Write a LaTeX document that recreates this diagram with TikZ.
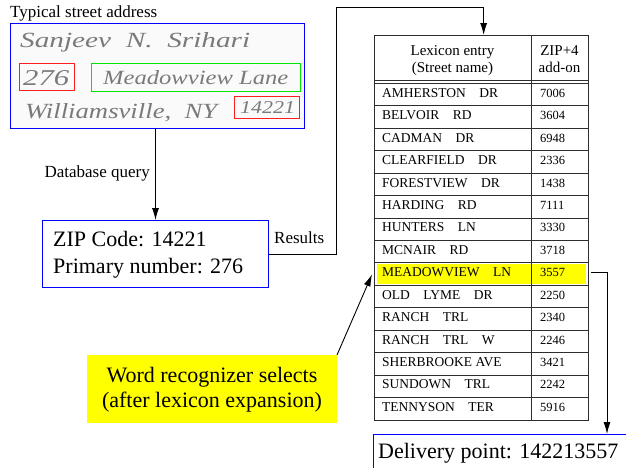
\documentclass[tikz,border=0pt]{standalone}
\usepackage{fontspec}
\setmainfont{Liberation Serif}
\usepackage{graphicx}
\usetikzlibrary{arrows.meta}
\definecolor{gridc}{RGB}{45,45,45}
\definecolor{hlyellow}{RGB}{255,255,0}
\definecolor{bxblue}{RGB}{0,0,255}
\definecolor{bxred}{RGB}{255,30,30}
\definecolor{bxgreen}{RGB}{0,230,0}
\tikzset{
  txtm/.style={inner sep=0pt, font=\fontsize{17}{20}\selectfont},
  bigt/.style={inner sep=0pt, font=\fontsize{22}{26}\selectfont},
  cellt/.style={inner sep=0pt, font=\fontsize{13.5}{16}\selectfont},
  numt/.style={inner sep=0pt, font=\fontsize{12.5}{15}\selectfont},
  headt/.style={inner sep=0pt, font=\fontsize{15}{17}\selectfont},
  hand/.style={inner sep=0pt, text=black!52, font=\itshape},
  frame/.style={inner sep=0pt, anchor=north west, line width=1pt},
  arr/.style={draw=black, line width=0.9pt, -{Latex[length=12pt,width=7pt]}},
  tline/.style={draw=gridc, line width=1pt},
}
\begin{document}
\begin{tikzpicture}[x=1pt,y=-1pt]
\useasboundingbox (0,0) rectangle (626,467);
\clip (0,0) rectangle (626,467);

% title
\node[txtm, anchor=base west] (title) at (10,17.5) {Typical street address};

% address image
\node[frame, draw=bxblue, fill=black!2, minimum width=294pt, minimum height=105pt] (addr) at (10,23) {};
\node[hand, anchor=base west] (hw1) at (20,47) {\resizebox{230pt}{15pt}{Sanjeev\ \ N.\ \ Srihari}};
\node[hand, anchor=base west] (hw2) at (23,85) {\resizebox{46pt}{15pt}{276}};
\node[hand, anchor=base west] (hw3) at (103,84) {\resizebox{185pt}{14pt}{Meadowview Lane}};
\node[hand, anchor=base west] (hw4) at (25,118) {\resizebox{192pt}{15pt}{Williamsville,\ \ NY}};
\node[hand, anchor=base west] (hw5) at (240,113) {\resizebox{55pt}{12pt}{14221}};
\node[frame, draw=bxred, minimum width=55pt, minimum height=27pt] (rb1) at (19,63) {};
\node[frame, draw=bxgreen, line width=1.2pt, minimum width=209pt, minimum height=28pt] (gb) at (91,63) {};
\node[frame, draw=bxred, minimum width=65pt, minimum height=22pt] (rb2) at (234,96) {};

% ZIP box
\node[frame, draw=bxblue, minimum width=226pt, minimum height=67pt] (zip) at (42,220) {};
\node[bigt, anchor=base west] (zip1) at (53,246) {ZIP Code: 14221};
\node[bigt, anchor=base west] (zip2) at (53,273) {Primary number: 276};

\draw[arr] (addr.south -| zip.north) -- (zip.north);
\node[txtm, anchor=base east] (dq) at (150,177) {Database query};

% table
\fill[hlyellow] (376.5,263.5) rectangle (586,284);
\node[frame, draw=gridc, line width=1.3pt, minimum width=214pt, minimum height=385pt] (tbl) at (374,35) {};
\draw[tline] (531,35) -- (531,420);
\draw[tline] (374,80.5) -- (588,80.5);
\draw[tline] (374,83.5) -- (588,83.5);
\foreach \i in {1,...,14} {
  \draw[tline] (374,{83.5+\i*22.43}) -- (588,{83.5+\i*22.43});
}
\node[headt, anchor=base] (h1a) at (452.5,55) {Lexicon entry};
\node[headt, anchor=base] (h1b) at (452.5,72) {(Street name)};
\node[headt, anchor=base] (h2a) at (559.5,55) {ZIP+4};
\node[headt, anchor=base] (h2b) at (559.5,72) {add-on};
\foreach \n/\z [count=\i from 0] in {
  AMHERSTON\quad DR/7006, BELVOIR\quad RD/3604, CADMAN\quad DR/6948,
  CLEARFIELD\quad DR/2336, FORESTVIEW\quad DR/1438, HARDING\quad RD/7111,
  HUNTERS\quad LN/3330, MCNAIR\quad RD/3718, MEADOWVIEW\quad LN/3557,
  OLD\quad LYME\quad DR/2250, RANCH\quad TRL/2340, RANCH\quad TRL\quad W/2246,
  SHERBROOKE AVE/3421, SUNDOWN\quad TRL/2242, TENNYSON\quad TER/5916} {
  \node[cellt, anchor=base west] (r\i) at (382,{83.5+\i*22.43+13.8}) {\n};
  \node[numt, anchor=base west] (z\i) at (540,{83.5+\i*22.43+13.8}) {\z};
}

% results connector
\draw[arr] (zip.east) -| (336,7) -| ([xshift=2pt]tbl.north);
\node[txtm, anchor=base west] (res) at (274,243) {Results};

% delivery point
\node[frame, draw=bxblue, minimum width=290pt, minimum height=45pt] (dp) at (373,434) {};
\node[bigt, anchor=base west] (dpt) at (378,458) {Delivery point: 142213557};
\draw[arr] ([xshift=2pt]tbl.east |- r8.west) -| ([xshift=234pt]dp.north west);

% word recognizer
\node[frame, line width=0pt, fill=hlyellow, minimum width=250pt, minimum height=68pt] (wr) at (87,355) {};
\node[bigt, anchor=base] (wr1) at (212,382) {Word recognizer selects};
\node[bigt, anchor=base] (wr2) at (212,407) {(after lexicon expansion)};
\draw[arr] (wr.north east) -- ([xshift=-2pt,yshift=-2pt]tbl.west |- r8.west);
\end{tikzpicture}
\end{document}
